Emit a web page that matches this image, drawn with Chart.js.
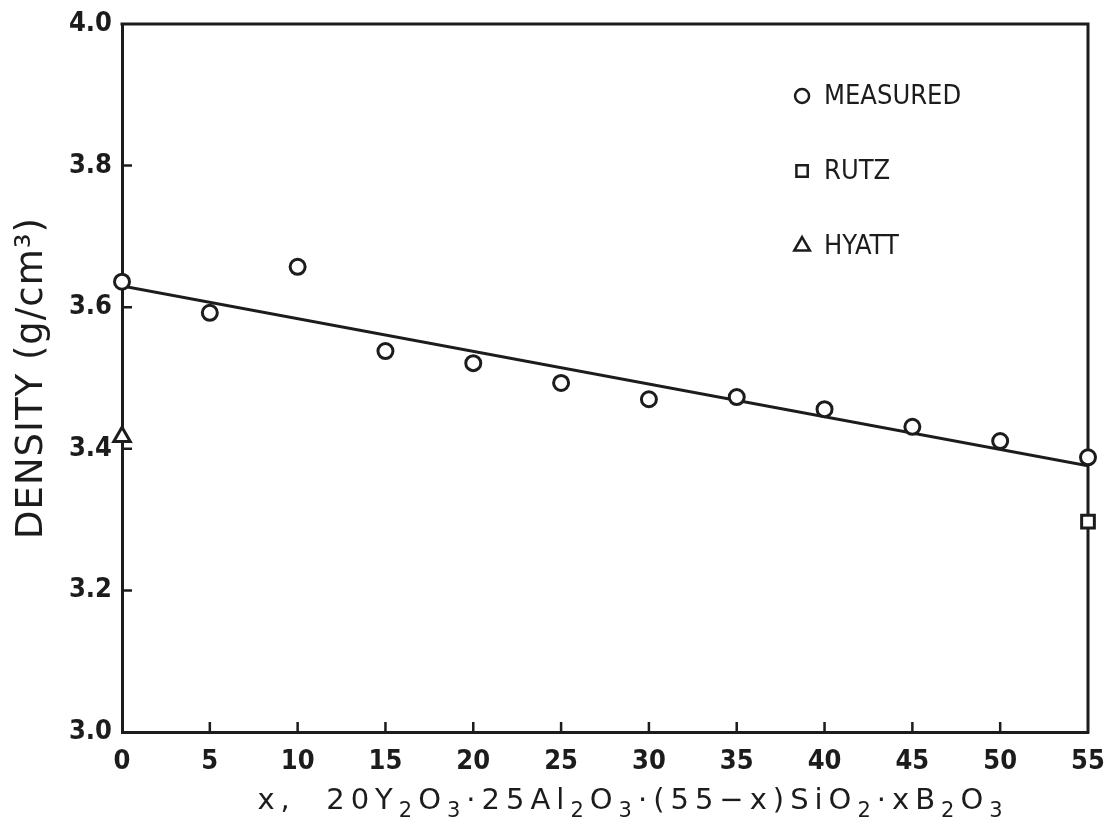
<!DOCTYPE html>
<html>
<head>
<meta charset="utf-8">
<title>Density vs B2O3 content</title>
<script src="https://cdn.jsdelivr.net/npm/chart.js@4.4.0/dist/chart.umd.min.js"></script>
<style>
  html, body { margin: 0; padding: 0; background: #fff; }
  canvas { display: block; }
</style>
</head>
<body>
<canvas id="densityChart" width="1106" height="826"></canvas>
<script>
// composition x (mol% B2O3) and measured densities
const compX = [0, 5, 10, 15, 20, 25, 30, 35, 40, 45, 50, 55];
const measured = [3.636, 3.592, 3.657, 3.538, 3.521, 3.493, 3.470, 3.473, 3.456, 3.431, 3.411, 3.388];

// literature values
const rutzX = [55];
const rutz = [3.297];
const hyattX = [0];
const hyatt = [3.417];

// fitted straight line
const fitX = [0, 55];
const fit = [3.630, 3.376];

// axes
const xMin = 0, xMax = 55, xStep = 5;
const yMin = 3.0, yMax = 4.0, yStep = 0.2;
const xTitle = 'x,  20Y₂O₃·25Al₂O₃·(55−x)SiO₂·xB₂O₃';
const yTitle = 'DENSITY (g/cm³)';

const ink = '#1c1c1c';
const toPoints = (xs, ys) => xs.map((x, i) => ({ x: x, y: ys[i] }));
const subDigits = { '₂': '2', '₃': '3' };

// box on top/right + inward tick marks
const frameTicks = {
    id: 'frameTicks',
    beforeDatasetsDraw(chart) {
        const { ctx, chartArea: a, scales } = chart;
        ctx.save();
        ctx.strokeStyle = ink;
        ctx.lineWidth = 3;
        ctx.lineCap = 'square';
        ctx.beginPath();
        ctx.moveTo(a.left, a.top);
        ctx.lineTo(a.right, a.top);
        ctx.lineTo(a.right, a.bottom);
        ctx.stroke();

        ctx.lineWidth = 2.5;
        ctx.lineCap = 'butt';
        ctx.beginPath();
        scales.x.ticks.forEach(t => {
            if (t.value === xMin || t.value === xMax) return;
            const px = scales.x.getPixelForValue(t.value);
            ctx.moveTo(px, a.bottom);
            ctx.lineTo(px, a.bottom - 10);
        });
        scales.y.ticks.forEach(t => {
            if (t.value === yMin || t.value === yMax) return;
            const py = scales.y.getPixelForValue(t.value);
            ctx.moveTo(a.left, py);
            ctx.lineTo(a.left + 10, py);
        });
        ctx.stroke();
        ctx.restore();
    }
};

// draws text with subscript digits lowered and smaller, centred on cx
function drawFormula(ctx, text, cx, baseline) {
    const mainFont = '29px "DejaVu Sans", sans-serif';
    const subFont = '21px "DejaVu Sans", sans-serif';
    const parts = [...text].map(ch => subDigits[ch]
        ? { s: subDigits[ch], font: subFont, dy: 8 }
        : { s: ch, font: mainFont, dy: 0 });
    let total = 0;
    parts.forEach(p => { ctx.font = p.font; p.w = ctx.measureText(p.s).width; total += p.w; });
    let x = cx - total / 2;
    ctx.textAlign = 'left';
    parts.forEach(p => {
        ctx.font = p.font;
        ctx.fillText(p.s, x, baseline + p.dy);
        x += p.w;
    });
}

// axis titles, drawn like the plotter lettering
const axisTitles = {
    id: 'axisTitles',
    afterDraw(chart) {
        const { ctx, chartArea: a } = chart;
        ctx.save();
        ctx.fillStyle = ink;
        ctx.textBaseline = 'alphabetic';

        ctx.letterSpacing = '6px';
        drawFormula(ctx, xTitle, (a.left + a.right) / 2 + 28, a.bottom + 77);

        ctx.translate(42, (a.top + a.bottom) / 2);
        ctx.rotate(-Math.PI / 2);
        ctx.textAlign = 'center';
        ctx.font = '37px "DejaVu Sans", sans-serif';
        ctx.letterSpacing = '1px';
        ctx.fillText(yTitle, 0, 0);
        ctx.restore();
    }
};

// legend drawn inside the plot area, one entry per row
const insideLegend = {
    id: 'insideLegend',
    afterDatasetsDraw(chart) {
        const { ctx, chartArea: a } = chart;
        const x0 = a.left + a.width * 0.704;
        let y = a.top + 72;
        ctx.save();
        ctx.font = '27px "DejaVu Sans Condensed", "DejaVu Sans", sans-serif';
        ctx.textBaseline = 'middle';
        chart.data.datasets.forEach(ds => {
            if (!ds.label) return;
            ctx.strokeStyle = ink;
            ctx.fillStyle = '#fff';
            ctx.lineWidth = 2.5;
            Chart.helpers.drawPoint(ctx, {
                pointStyle: ds.pointStyle,
                radius: ds.legendRadius,
                borderWidth: 2.5,
                rotation: 0
            }, x0, y);
            ctx.fillStyle = ink;
            ctx.fillText(ds.label, x0 + 22, y + 1);
            y += 75;
        });
        ctx.restore();
    }
};

const ctx = document.getElementById('densityChart').getContext('2d');
const densityChart = new Chart(ctx, {
    type: 'scatter',
    data: {
        datasets: [
            {
                label: 'MEASURED',
                data: toPoints(compX, measured),
                pointStyle: 'circle',
                pointRadius: 7.5,
                legendRadius: 7,
                pointBorderWidth: 3,
                borderColor: ink,
                backgroundColor: '#fff',
                clip: false,
                order: 0
            },
            {
                label: 'RUTZ',
                data: toPoints(rutzX, rutz),
                pointStyle: 'rect',
                pointRadius: 9,
                legendRadius: 8,
                pointBorderWidth: 3,
                borderColor: ink,
                backgroundColor: '#fff',
                clip: false,
                order: 0
            },
            {
                label: 'HYATT',
                data: toPoints(hyattX, hyatt),
                pointStyle: 'triangle',
                pointRadius: 9.5,
                legendRadius: 9,
                pointBorderWidth: 3,
                borderColor: ink,
                backgroundColor: '#fff',
                clip: false,
                order: 0
            },
            {
                label: '',
                data: toPoints(fitX, fit),
                showLine: true,
                pointRadius: 0,
                borderColor: ink,
                borderWidth: 3,
                order: 1
            }
        ]
    },
    options: {
        responsive: false,
        animation: false,
        layout: { padding: { top: 24, right: 18, left: 0, bottom: 0 } },
        plugins: {
            legend: { display: false },
            tooltip: { enabled: false }
        },
        scales: {
            x: {
                type: 'linear',
                min: xMin,
                max: xMax,
                grid: { display: false, drawTicks: false },
                border: { display: true, color: ink, width: 3 },
                ticks: {
                    stepSize: xStep,
                    padding: 14,
                    color: ink,
                    maxRotation: 0,
                    font: { family: '"DejaVu Sans Condensed", "DejaVu Sans", sans-serif', size: 27, weight: 'bold' }
                },
                afterFit: scale => {
                    scale.height = 94;
                    scale.paddingLeft = 0;
                    scale.paddingRight = 0;
                }
            },
            y: {
                type: 'linear',
                min: yMin,
                max: yMax,
                grid: { display: false, drawTicks: false },
                border: { display: true, color: ink, width: 3 },
                ticks: {
                    stepSize: yStep,
                    padding: 10,
                    color: ink,
                    callback: v => v.toFixed(1),
                    font: { family: '"DejaVu Sans Condensed", "DejaVu Sans", sans-serif', size: 27, weight: 'bold' }
                },
                afterFit: scale => {
                    scale.width = 122;
                    scale.paddingTop = 0;
                    scale.paddingBottom = 0;
                }
            }
        }
    },
    plugins: [frameTicks, axisTitles, insideLegend]
});
</script>
</body>
</html>
